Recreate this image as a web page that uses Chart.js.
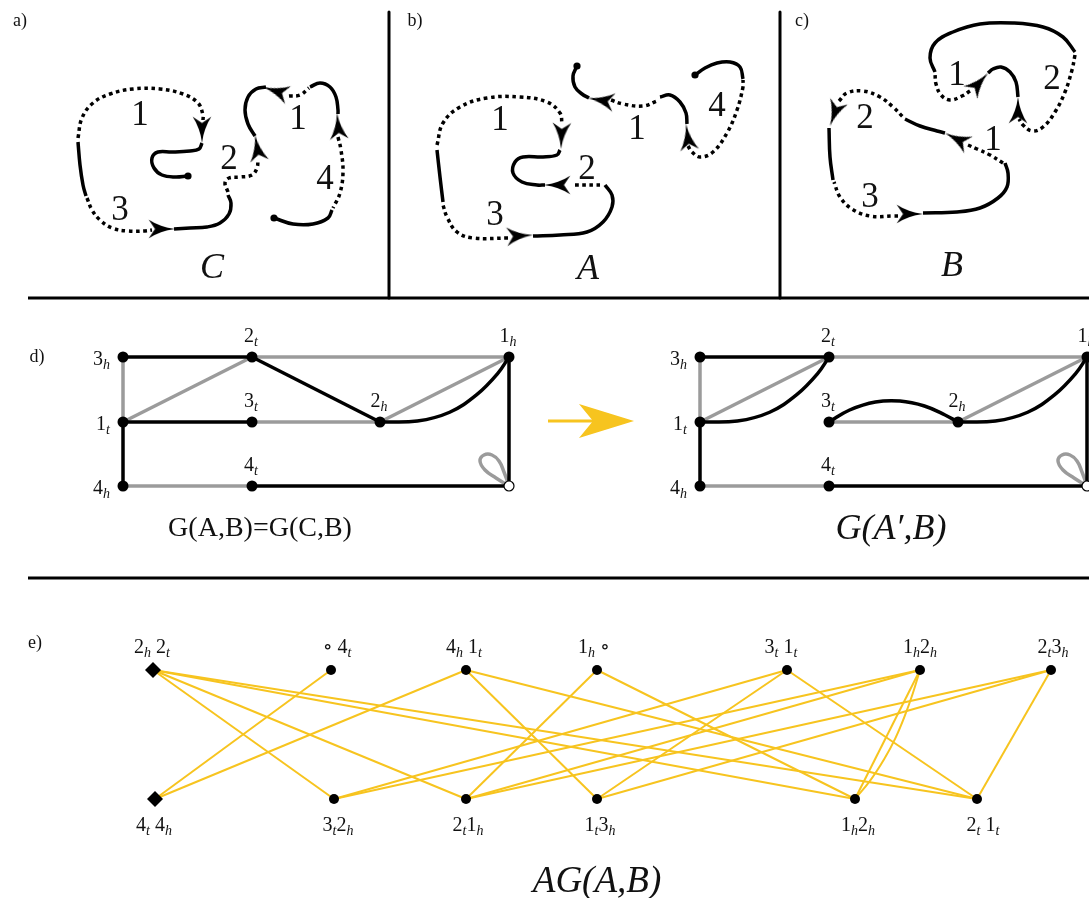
<!DOCTYPE html>
<html><head><meta charset="utf-8">
<script src="https://cdn.jsdelivr.net/npm/chart.js@4.4.0/dist/chart.umd.min.js"></script>
<style>html,body{margin:0;padding:0;background:#fff;overflow:hidden}canvas{display:block}</style>
</head><body><canvas id="c" width="1089" height="898"></canvas>
<script>
// ================= DATA =================
// panel tags
const panelTags = ['a)','b)','c)','d)','e)'];
const panelTagX = [20,415,802,37,35];
const panelTagY = [20,20,20,356,642];
// separator rules [x1,y1,x2,y2]
const rules = [[28,298,1089,298],[389,12,389,298],[780,12,780,298],[28,578,1089,578]];

// ---- knot C (panel a) ----
const C_solid = [
 [[78,142],[80,165],[83,185],[86,196]],
 [[202,143],[199,149],[190,151],[172,152],[158,152],[152,158],[154,168],[162,175],[175,177],[188,176]],
 [[174,229],[190,228],[207,227],[220,223],[229,214],[231,203],[228,195]],
 [[255,136],[248,124],[245,110],[248,97],[256,89],[266,87]],
 [[310,87],[320,83],[330,87],[336,97],[338,110],[338,114]],
 [[332,210],[328,218],[313,224],[293,224],[274,218]]
];
const C_dotted = [
 [[78,138],[82,118],[93,103],[110,94],[133,89],[160,89],[183,94],[198,103],[203,115],[203,120]],
 [[87,198],[92,210],[100,220],[112,228],[128,231],[145,231],[152,230]],
 [[228,192],[225,183],[229,178],[240,177],[252,175],[257,168],[258,160]],
 [[289,96],[300,95],[309,88]],
 [[338,137],[341,150],[343,172],[340,193],[333,208]]
];
const C_ends = [[188,176],[274,218]];
// arrow tips [x, y, heading in degrees clockwise from up]
const C_arrows = [[202,143,180],[175,229,90],[255,135,350],[263,87,288],[337,113,355]];
const C_nums = [['1',140,113],['2',229,157],['1',298,117],['4',325,177],['3',120,208]];
const C_name = ['C',212,266];

// ---- knot A (panel b) ----
const A_solid = [
 [[437,150],[440,177],[443,202]],
 [[560,150],[557,155],[543,157],[523,157],[515,162],[513,173],[522,182],[537,185],[545,185]],
 [[605,185],[612,195],[612,207],[603,222],[587,232],[560,235],[533,236]],
 [[577,66],[573,76],[575,87],[582,94],[589,98]],
 [[660,97],[670,95],[680,102],[686,113],[687,124]],
 [[743,79],[740,67],[730,62],[717,63],[705,68],[695,75]]
];
const A_dotted = [
 [[437,145],[443,123],[460,107],[487,98],[520,97],[547,102],[560,113],[562,124]],
 [[575,185],[603,185]],
 [[508,238],[473,238],[457,232],[447,217],[443,205]],
 [[611,100],[623,104],[643,106],[657,101]],
 [[688,146],[692,152],[700,157],[713,152],[727,133],[737,110],[743,87],[743,80]]
];
const A_ends = [[577,66],[695,75]];
const A_arrows = [[561,149,182],[544,185,270],[533,235,86],[588,98,280],[686,124,352]];
const A_nums = [['1',500,118],['2',587,167],['3',495,213],['1',637,127],['4',717,104]];
const A_name = ['A',588,267];

// ---- knot B (panel c) ----
const B_solid = [
 [[935,72],[930,58],[935,43],[953,32],[980,24],[1013,23],[1043,27],[1063,37],[1075,52]],
 [[988,73],[993,69],[1001,67],[1010,72],[1016,82],[1018,97]],
 [[829,128],[830,157],[833,180]],
 [[905,119],[920,126],[937,131],[945,133]],
 [[1005,163],[1008,173],[1007,187],[998,198],[980,208],[957,212],[923,213]]
];
const B_dotted = [
 [[1075,55],[1072,70],[1065,92],[1055,112],[1043,127],[1032,131],[1023,125],[1019,119]],
 [[970,91],[962,96],[950,100],[941,95],[936,84],[935,74]],
 [[839,101],[847,93],[863,91],[880,97],[893,107],[903,117]],
 [[968,145],[977,149],[990,155],[1003,163]],
 [[898,216],[893,216],[870,216],[852,209],[840,197],[834,182]]
];
const B_arrows = [[1018,97,0],[988,73,42],[830,126,200],[945,133,297],[923,214,90]];
const B_nums = [['1',957,73],['2',1052,77],['2',865,116],['1',993,138],['3',870,195]];
const B_name = ['B',952,264];

// ---- graphs G (panel d) ----
const gLabels = ['3_h','2_t','1_h','1_t','3_t','2_h','4_h','4_t',''];
const gPlace  = ['left','above','above','left','above','above','left','above','none'];
const gLeftX  = [123,252,509,123,252,380,123,252,509];
const gRightX = [700,829,1087,700,829,958,700,829,1087];
const gY      = [357,357,357,422,422,422,486,486,486];
const gLeftBlack  = [[0,1],[1,5],[3,4],[3,6],[7,8],[2,8]];
const gLeftGray   = [[1,2],[0,3],[3,1],[5,2],[4,5],[6,7]];
const gLeftHooks  = [[5,2]];
const gRightBlack = [[0,1],[3,6],[7,8],[2,8]];
const gRightGray  = [[1,2],[0,3],[3,1],[5,2],[4,5],[6,7]];
const gRightHooks = [[3,1],[5,2]];
const gRightArcs  = [[4,5]];
const gHookShape  = [[0,0],[0.29,0.015],[0.54,0.15],[0.75,0.42],[0.91,0.74],[1,1]];
const gArcShape   = [[0,0],[0.16,-12],[0.36,-20],[0.55,-21],[0.74,-16],[0.9,-7],[1,0]];
const gLoopShape  = [[0,0],[-13,-8],[-24,-16],[-29,-25],[-25,-31],[-17,-31],[-10,-25],[-5,-14],[0,0]];
const gCaptions   = [['G(A,B)=G(C,B)',260,527,false],['G(A\u2032,B)',891,527,true]];
const dArrow      = [[548,421],[634,421]];

// ---- AG (panel e) ----
const agTopLabels    = ['2_h 2_t','\u2218 4_t','4_h 1_t','1_h \u2218','3_t 1_t','1_h2_h','2_t3_h'];
const agTopX         = [153,331,466,597,787,920,1051];
const agTopLabelX    = [152,337,464,594,781,920,1053];
const agBottomLabels = ['4_t 4_h','3_t2_h','2_t1_h','1_t3_h','1_h2_h','2_t 1_t'];
const agBottomX      = [155,334,466,597,855,977];
const agBottomLabelX = [154,338,468,600,858,983];
const agTopY = 670, agBottomY = 799;
const agEdges = [[0,1],[0,2],[0,4],[0,5],[1,0],[2,0],[2,3],[2,5],[3,2],[3,4],
                 [4,1],[4,3],[4,5],[5,1],[5,2],[5,4],[6,2],[6,3],[6,5]];
const agCurved = [[5,4]];
const agCurveShape = [[0,0],[0.23,0.14],[0.45,0.31],[0.62,0.47],[0.77,0.65],[0.89,0.82],[1,1]];
const agCaption = ['AG(A,B)',597,880];

// ================= STYLE =================
const BLACK='#000', GRAY='#9b9b9b', GOLD='#f7c41f';
const SERIF='"Liberation Serif","DejaVu Serif",serif';
const ARROW=30, ARROW_TIP=ARROW/2-ARROW/24; // distance centre→tip

function arrowImg(size, color){
  const c=document.createElement('canvas'); c.width=size; c.height=size;
  const g=c.getContext('2d'); const s=size/24; g.fillStyle=color; g.beginPath();
  g.moveTo(12*s,1*s); g.quadraticCurveTo(13.5*s,13*s,19.5*s,22*s); g.lineTo(12*s,17*s);
  g.lineTo(4.5*s,22*s); g.quadraticCurveTo(10.5*s,13*s,12*s,1*s); g.closePath(); g.fill(); return c;
}
function bigArrowImg(){
  const c=document.createElement('canvas'); c.width=58; c.height=58;
  const g=c.getContext('2d'); g.fillStyle=GOLD; g.beginPath();
  g.moveTo(29,1); g.lineTo(46,56); g.lineTo(29,42); g.lineTo(12,56); g.closePath(); g.fill(); return c;
}

const datasets=[];
const P = a => a.map(p=>({x:p[0],y:p[1]}));
function addLine(pts,color,width,dashed,tension,order){
  datasets.push({data:P(pts),showLine:true,borderColor:color,borderWidth:width,pointRadius:0,
    pointHoverRadius:0,tension:tension,fill:false,order:order,borderCapStyle:'butt',
    borderJoinStyle:'round',borderDash:dashed?[3.6,3.6]:[]});
}
function addPoints(pts,opts){
  datasets.push(Object.assign({data:P(pts),showLine:false,order:0,pointHoverRadius:0},opts));
}

// rules
rules.forEach(r=>addLine([[r[0],r[1]],[r[2],r[3]]],BLACK,3,false,0,2));
// knots
[C_solid,A_solid,B_solid].flat(1).forEach(s=>addLine(s,BLACK,3.5,false,0.4,2));
[C_dotted,A_dotted,B_dotted].flat(1).forEach(s=>addLine(s,BLACK,3.5,true,0.4,2));
addPoints([...C_ends,...A_ends],{pointRadius:3.6,pointBackgroundColor:BLACK,pointBorderWidth:0});
const allArrows=[...C_arrows,...A_arrows,...B_arrows];
addPoints(allArrows.map(a=>{const r=a[2]*Math.PI/180; return [a[0]-ARROW_TIP*Math.sin(r),a[1]+ARROW_TIP*Math.cos(r)];}),
  {pointStyle:arrowImg(ARROW,BLACK),pointRadius:8,pointRotation:allArrows.map(a=>a[2])});

// graphs
function graph(X,black,gray,hooks,arcs){
  const pt=i=>[X[i],gY[i]];
  gray.forEach(([a,b])=>addLine([pt(a),pt(b)],GRAY,3.5,false,0,3));
  black.forEach(([a,b])=>addLine([pt(a),pt(b)],BLACK,3.5,false,0,2));
  hooks.forEach(([a,b])=>{const s=pt(a),e=pt(b);
    addLine(gHookShape.map(([fx,fy])=>[s[0]+fx*(e[0]-s[0]),s[1]+fy*(e[1]-s[1])]),BLACK,3.5,false,0.4,2);});
  arcs.forEach(([a,b])=>{const s=pt(a),e=pt(b);
    addLine(gArcShape.map(([fx,dy])=>[s[0]+fx*(e[0]-s[0]),s[1]+dy]),BLACK,3.5,false,0.4,2);});
  const o=pt(8);
  addLine(gLoopShape.map(([dx,dy])=>[o[0]+dx,o[1]+dy]),GRAY,3.5,false,0.45,3);
  addPoints(gY.map((y,i)=>[X[i],y]),{pointRadius:gY.map((y,i)=>i===8?5:5.5),
    pointBackgroundColor:gY.map((y,i)=>i===8?'#fff':BLACK),pointBorderColor:BLACK,
    pointBorderWidth:gY.map((y,i)=>i===8?1.2:0)});
}
graph(gLeftX,gLeftBlack,gLeftGray,gLeftHooks,[]);
graph(gRightX,gRightBlack,gRightGray,gRightHooks,gRightArcs);
// yellow transition arrow
addLine([dArrow[0],[dArrow[1][0]-36,dArrow[1][1]]],GOLD,3,false,0,2);
addPoints([[dArrow[1][0]-28,dArrow[1][1]]],{pointStyle:bigArrowImg(),pointRadius:10,pointRotation:90});

// AG
agEdges.forEach(([t,b])=>addLine([[agTopX[t],agTopY],[agBottomX[b],agBottomY]],GOLD,2,false,0,3));
agCurved.forEach(([t,b])=>{const s=[agBottomX[b],agBottomY],e=[agTopX[t],agTopY];
  addLine(agCurveShape.map(([fx,fy])=>[s[0]+fx*(e[0]-s[0]),s[1]+fy*(e[1]-s[1])]),GOLD,2,false,0.4,3);});
addPoints(agTopX.map(x=>[x,agTopY]),{pointStyle:agTopX.map((x,i)=>i===0?'rectRot':'circle'),
  pointRadius:agTopX.map((x,i)=>i===0?8:5),pointBackgroundColor:BLACK,pointBorderWidth:0});
addPoints(agBottomX.map(x=>[x,agBottomY]),{pointStyle:agBottomX.map((x,i)=>i===0?'rectRot':'circle'),
  pointRadius:agBottomX.map((x,i)=>i===0?8:5),pointBackgroundColor:BLACK,pointBorderWidth:0});

// ================= TEXT =================
function rich(ctx,str,x,y,size,align,italic){
  const toks=[];
  for(let i=0;i<str.length;i++){ if(str[i]==='_'&&i+1<str.length){toks.push({t:str[i+1],sub:true});i++;} else toks.push({t:str[i],sub:false}); }
  const mf=(italic?'italic ':'')+size+'px '+SERIF, sf='italic '+Math.round(size*0.72)+'px '+SERIF;
  let w=0; toks.forEach(k=>{ctx.font=k.sub?sf:mf; k.w=ctx.measureText(k.t).width; w+=k.w;});
  let sx=align==='center'?x-w/2:align==='right'?x-w:x;
  const base=y+size*0.33;
  toks.forEach(k=>{ctx.font=k.sub?sf:mf; ctx.fillText(k.t,sx,k.sub?base+size*0.2:base); sx+=k.w;});
}
const textPlugin={id:'texts',afterDatasetsDraw(chart){
  const ctx=chart.ctx, sx=chart.scales.x, sy=chart.scales.y;
  const X=v=>sx.getPixelForValue(v), Y=v=>sy.getPixelForValue(v);
  ctx.save(); ctx.fillStyle='#111'; ctx.textBaseline='alphabetic'; ctx.textAlign='left';
  panelTags.forEach((t,i)=>rich(ctx,t,X(panelTagX[i]),Y(panelTagY[i]),18,'center',false));
  [C_nums,A_nums,B_nums].flat(1).forEach(n=>rich(ctx,n[0],X(n[1]),Y(n[2]),35,'center',false));
  [C_name,A_name,B_name].forEach(n=>rich(ctx,n[0],X(n[1]),Y(n[2]),36,'center',true));
  [gLeftX,gRightX].forEach(GX=>{
    gLabels.forEach((l,i)=>{
      if(gPlace[i]==='left') rich(ctx,l,X(GX[i]-13),Y(gY[i]+1),20,'right',false);
      else if(gPlace[i]==='above') rich(ctx,l,X(GX[i]-1),Y(gY[i]-22),20,'center',false);
    });
  });
  gCaptions.forEach(c=>rich(ctx,c[0],X(c[1]),Y(c[2]),c[3]?36:28,'center',c[3]));
  agTopLabels.forEach((l,i)=>rich(ctx,l,X(agTopLabelX[i]),Y(agTopY-24),20,'center',false));
  agBottomLabels.forEach((l,i)=>rich(ctx,l,X(agBottomLabelX[i]),Y(agBottomY+25),20,'center',false));
  rich(ctx,agCaption[0],X(agCaption[1]),Y(agCaption[2]),37,'center',true);
  ctx.restore();
}};

new Chart(document.getElementById('c'),{
  type:'scatter',
  data:{datasets},
  options:{responsive:false,maintainAspectRatio:false,animation:false,devicePixelRatio:1,events:[],
    layout:{padding:0,autoPadding:false},
    plugins:{legend:{display:false},tooltip:{enabled:false}},
    scales:{x:{type:'linear',min:0,max:1089,display:false},
            y:{type:'linear',min:0,max:898,reverse:true,display:false}}},
  plugins:[textPlugin]
});
</script></body></html>
